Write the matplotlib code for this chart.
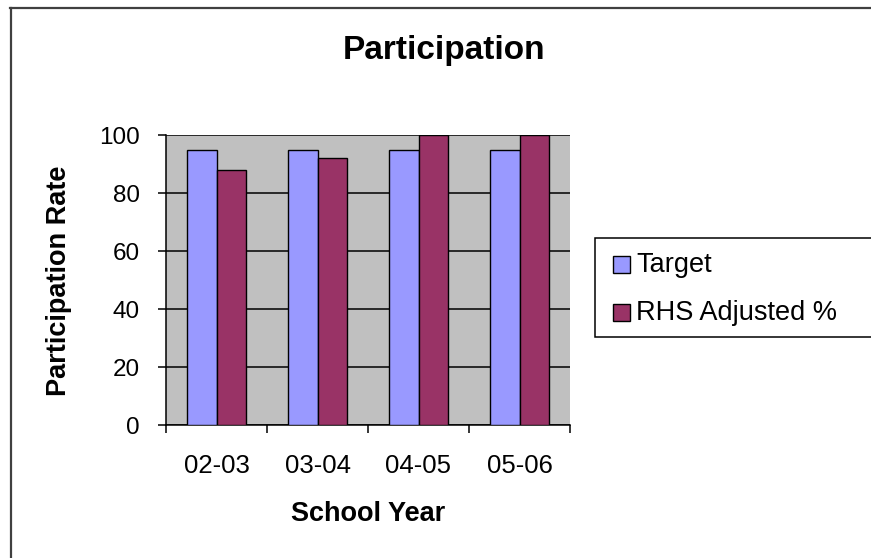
import numpy as np
import matplotlib
matplotlib.use("Agg")
import matplotlib.pyplot as plt
from matplotlib.patches import Rectangle
from matplotlib.lines import Line2D

#%% Data
years = ["02-03", "03-04", "04-05", "05-06"]
target = [95, 95, 95, 95]
rhs_adjusted = [88, 92, 100, 100]
series_names = ["Target", "RHS Adjusted %"]
y_ticks = [0, 20, 40, 60, 80, 100]

#%% Style
TARGET_COLOR = "#9999FF"
RHS_COLOR = "#993366"
PLOT_BG = "#C0C0C0"
plt.rcParams["font.family"] = ["Liberation Sans", "DejaVu Sans"]

W, H = 871, 558
fig = plt.figure(figsize=(W / 100, H / 100), dpi=100)
fig.patch.set_facecolor("white")

# plot area in pixel coordinates (left, top, right, bottom)
L, T, R, B = 166, 135, 570, 425
ax = fig.add_axes([L / W, 1 - B / H, (R - L) / W, (B - T) / H])
ax.set_facecolor(PLOT_BG)

x = np.arange(len(years))
bw = 0.29
bars_t = ax.bar(x - bw / 2, target, bw, color=TARGET_COLOR,
                edgecolor="black", linewidth=1.0, zorder=3)
bars_r = ax.bar(x + bw / 2, rhs_adjusted, bw, color=RHS_COLOR,
                edgecolor="black", linewidth=1.0, zorder=3)

ax.set_xlim(-0.5, len(years) - 0.5)
ax.set_ylim(0, 100)
ax.set_yticks(y_ticks)
ax.set_yticklabels([str(v) for v in y_ticks], fontsize=17.5)
ax.yaxis.grid(True, color="black", linewidth=1.1, zorder=1)
ax.set_axisbelow(True)

# category labels between boundary ticks
ax.set_xticks(x)
ax.set_xticklabels(years, fontsize=18.5)
ax.set_xticks(np.arange(-0.5, len(years)), minor=True)
ax.tick_params(axis="x", which="major", length=0, pad=21)
ax.tick_params(axis="x", which="minor", length=6, width=1.1, direction="out")
ax.tick_params(axis="y", length=6, width=1.1, direction="out", pad=13)

for s in ["top", "right"]:
    ax.spines[s].set_visible(False)
for s in ["left", "bottom"]:
    ax.spines[s].set_linewidth(1.1)
    ax.spines[s].set_color("black")

#%% Titles
fig.text(444 / W, 1 - 59 / H, "Participation", fontsize=24, fontweight="bold",
         ha="center", va="baseline")
fig.text(368 / W, 1 - 521 / H, "School Year", fontsize=19.5, fontweight="bold",
         ha="center", va="baseline")
fig.text(59 / W, 1 - 281 / H, "Participation Rate", fontsize=19.5,
         fontweight="bold", rotation=90, ha="center", va="center")

#%% Legend box (runs off the right edge)
fig.add_artist(Rectangle((595 / W, 1 - 337 / H), 0.4, 99 / H,
                         transform=fig.transFigure, facecolor="white",
                         edgecolor="black", linewidth=1.1, clip_on=False))
rows = [(bars_t, 273), (bars_r, 321)]
for name, (cont, base) in zip(series_names, rows):
    fig.add_artist(Rectangle((613 / W, 1 - base / H), 17 / W, 17 / H,
                             transform=fig.transFigure,
                             facecolor=cont.patches[0].get_facecolor(),
                             edgecolor="black", linewidth=1.0))
    fig.text(636 / W, 1 - (base - 1) / H, name, fontsize=19.5,
             ha="left", va="baseline")

#%% Chart border (top and left visible)
fig.add_artist(Line2D([10.5 / W, 10.5 / W], [0, 1 - 8 / H],
                      transform=fig.transFigure, color="#404040", linewidth=1.6))
fig.add_artist(Line2D([10 / W, 1], [1 - 8 / H, 1 - 8 / H],
                      transform=fig.transFigure, color="#404040", linewidth=1.6))

fig.savefig("out.png", dpi=100)
